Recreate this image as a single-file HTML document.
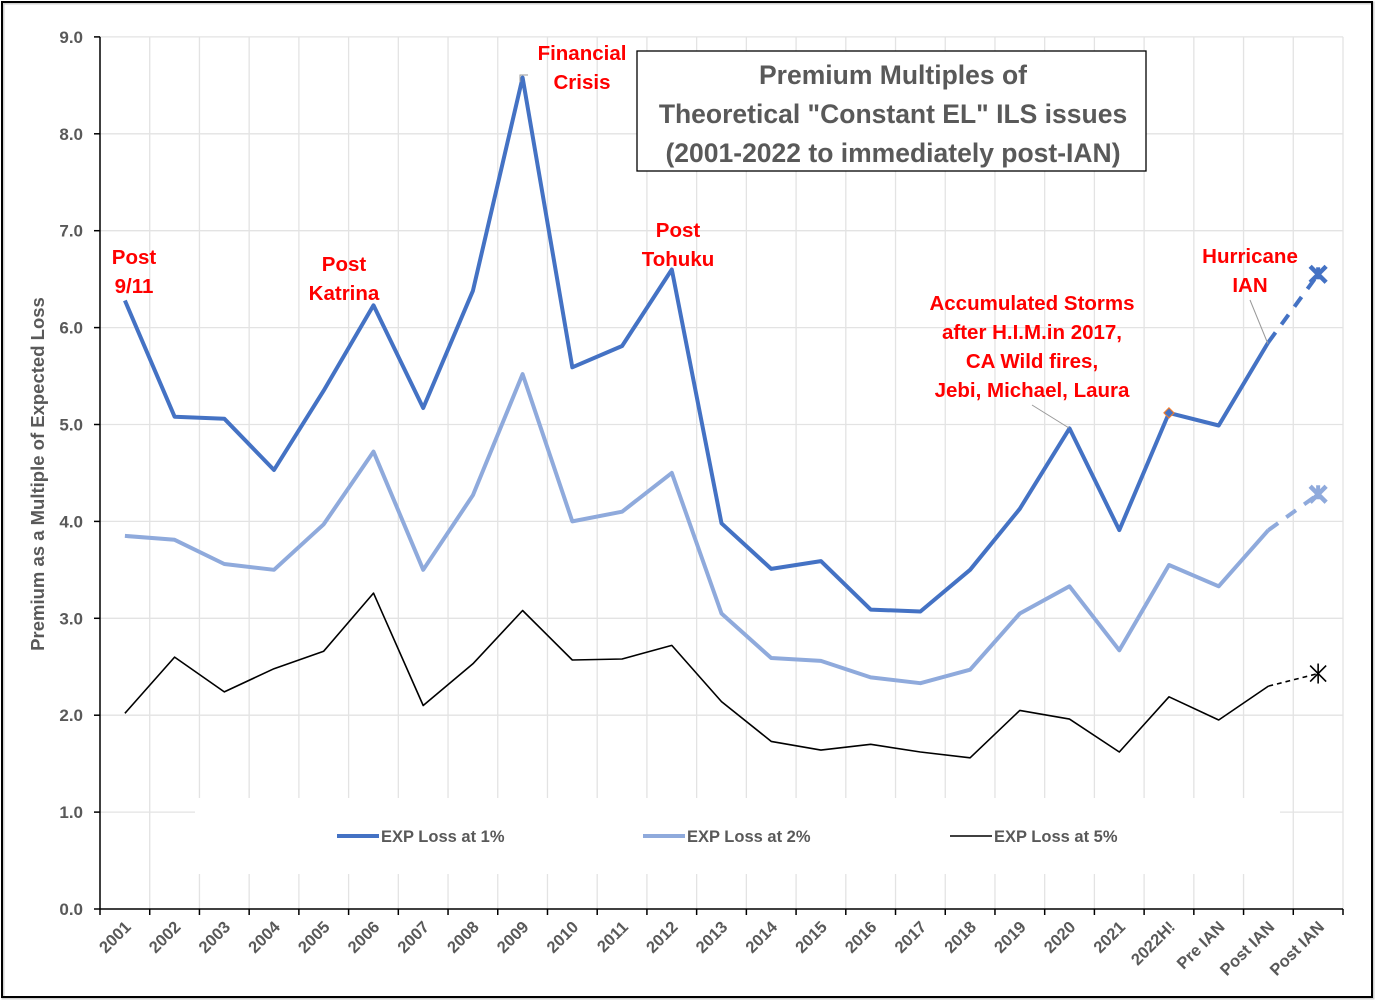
<!DOCTYPE html>
<html><head><meta charset="utf-8"><style>
html,body{margin:0;padding:0;background:#fff;}
svg{display:block;font-family:"Liberation Sans",sans-serif;}
</style></head><body>
<svg id="s" width="1380" height="1008" viewBox="0 0 1380 1008" xmlns="http://www.w3.org/2000/svg"></svg>
<script>
var s=document.getElementById('s');
var X0=100,X1=1343,Y0=909,U=96.9,N=25,W=(X1-X0)/N;
function cx(i){return X0+W*(i+0.5);}
function cy(v){return Y0-v*U;}
var h='';
h+='<rect x="0" y="0" width="1380" height="1008" fill="#fff"/>';
h+='<rect x="3" y="3" width="1370" height="995" fill="none" stroke="#d0d0d0" stroke-width="3"/>';
h+='<rect x="2" y="2" width="1370" height="995" fill="none" stroke="#000" stroke-width="2"/>';
for(var k=1;k<=9;k++){h+='<line x1="'+X0+'" x2="'+X1+'" y1="'+cy(k)+'" y2="'+cy(k)+'" stroke="#e3e3e3" stroke-width="1.3"/>';}
for(var i=1;i<=N;i++){var x=X0+W*i;h+='<line x1="'+x+'" x2="'+x+'" y1="'+cy(9)+'" y2="'+Y0+'" stroke="#e3e3e3" stroke-width="1.3"/>';}
h+='<rect x="195" y="798" width="1085" height="76" fill="#fff"/>';
h+='<line x1="'+X0+'" x2="'+X0+'" y1="'+cy(9)+'" y2="'+Y0+'" stroke="#000" stroke-width="1.5"/>';
h+='<line x1="'+X0+'" x2="'+X1+'" y1="'+Y0+'" y2="'+Y0+'" stroke="#000" stroke-width="1.5"/>';
for(var k=0;k<=9;k++){h+='<line x1="94" x2="100" y1="'+cy(k)+'" y2="'+cy(k)+'" stroke="#000" stroke-width="1.5"/>';
h+='<text x="83" y="'+(cy(k)+6)+'" text-anchor="end" font-size="17" font-weight="bold" fill="#595959">'+k.toFixed(1)+'</text>';}
var labs=[];for(var y=2001;y<=2021;y++)labs.push(''+y);labs=labs.concat(['2022H!','Pre IAN','Post IAN','Post IAN']);
for(var i=0;i<=N;i++){var x=X0+W*i;h+='<line x1="'+x+'" x2="'+x+'" y1="'+Y0+'" y2="'+(Y0+6)+'" stroke="#000" stroke-width="1.5"/>';}
for(var i=0;i<N;i++){var x=cx(i)+7,y=928;h+='<text transform="translate('+x+','+y+') rotate(-45)" text-anchor="end" font-size="16.5" font-weight="bold" fill="#595959">'+labs[i]+'</text>';}
h+='<text transform="translate(44,474) rotate(-90)" text-anchor="middle" font-size="18.5" font-weight="bold" fill="#595959">Premium as a Multiple of Expected Loss</text>';
var d1=[6.28,5.08,5.06,4.53,5.35,6.23,5.17,6.38,8.58,5.59,5.81,6.60,3.98,3.51,3.59,3.09,3.07,3.50,4.13,4.96,3.91,5.12,4.99,5.85,6.55];
var d2=[3.85,3.81,3.56,3.50,3.97,4.72,3.50,4.27,5.52,4.00,4.10,4.50,3.05,2.59,2.56,2.39,2.33,2.47,3.05,3.33,2.67,3.55,3.33,3.91,4.28];
var d3=[2.02,2.60,2.24,2.48,2.66,3.26,2.10,2.53,3.08,2.57,2.58,2.72,2.14,1.73,1.64,1.70,1.62,1.56,2.05,1.96,1.62,2.19,1.95,2.30,2.43];
function pl(d,c,w){var p='';for(var i=0;i<24;i++)p+=(i?' ':'')+cx(i).toFixed(1)+','+cy(d[i]).toFixed(1);
return '<polyline points="'+p+'" fill="none" stroke="'+c+'" stroke-width="'+w+'" stroke-linejoin="round"/>'+
'<line x1="'+cx(23)+'" y1="'+cy(d[23])+'" x2="'+cx(24)+'" y2="'+cy(d[24])+'" stroke="'+c+'" stroke-width="'+w+'" stroke-dasharray="'+(w*3)+','+(w*2.5)+'"/>';}
h+=pl(d3,'#000',1.6);
h+=pl(d2,'#8FAADC',4);
h+=pl(d1,'#4472C4',4);
function xm(x,y,c,w){return '<path d="M'+(x-8)+','+(y-8)+'L'+(x+8)+','+(y+8)+'M'+(x-8)+','+(y+8)+'L'+(x+8)+','+(y-8)+'" stroke="'+c+'" stroke-width="'+w+'"/>';}
h+=xm(cx(24),cy(6.55),'#4472C4',4.5)+'<line x1="'+cx(24)+'" x2="'+cx(24)+'" y1="'+(cy(6.55)-7)+'" y2="'+(cy(6.55)+5)+'" stroke="#4472C4" stroke-width="4"/>';
h+=xm(cx(24),cy(4.28),'#8FAADC',4.5)+'<line x1="'+cx(24)+'" x2="'+cx(24)+'" y1="'+(cy(4.28)-9)+'" y2="'+(cy(4.28)+5)+'" stroke="#8FAADC" stroke-width="4"/>';
h+=xm(cx(24),cy(2.43),'#000',1.6)+'<line x1="'+cx(24)+'" x2="'+cx(24)+'" y1="'+(cy(2.43)-10)+'" y2="'+(cy(2.43)+10)+'" stroke="#000" stroke-width="1.6"/>';
var dx=cx(21),dy=cy(5.12);
h+='<path d="M'+dx+','+(dy-5)+'L'+(dx+5)+','+dy+'L'+dx+','+(dy+5)+'L'+(dx-5)+','+dy+'Z" fill="#4472C4" stroke="#ED7D31" stroke-width="1.2"/>';
function lg(x,c,w,t){return '<line x1="'+x+'" x2="'+(x+42)+'" y1="836" y2="836" stroke="'+c+'" stroke-width="'+w+'"/><text x="'+(x+44)+'" y="842" font-size="16.5" font-weight="bold" fill="#595959">'+t+'</text>';}
h+=lg(337,'#4472C4',4,'EXP Loss at 1%');
h+=lg(643,'#8FAADC',4,'EXP Loss at 2%');
h+=lg(950,'#000',1.6,'EXP Loss at 5%');
h+='<rect x="637" y="51" width="509" height="120" fill="#fff" stroke="#000" stroke-width="1.3"/>';
var tt=['Premium Multiples of','Theoretical "Constant EL" ILS issues','(2001-2022 to immediately post-IAN)'];
for(var i=0;i<3;i++)h+='<text x="893" y="'+(84+i*39)+'" text-anchor="middle" font-size="26.5" font-weight="bold" fill="#595959">'+tt[i].replace(/"/g,'&quot;')+'</text>';
function an(x,y,lines){var r='';for(var i=0;i<lines.length;i++)r+='<text x="'+x+'" y="'+(y+i*29)+'" text-anchor="middle" font-size="20.5" font-weight="bold" fill="#FF0000">'+lines[i]+'</text>';return r;}
h+=an(134,264,['Post','9/11']);
h+=an(344,271,['Post','Katrina']);
h+=an(582,60,['Financial','Crisis']);
h+=an(678,237,['Post','Tohuku']);
h+=an(1032,310,['Accumulated Storms','after H.I.M.in 2017,','CA Wild fires,','Jebi, Michael, Laura']);
h+=an(1250,263,['Hurricane','IAN']);
h+='<path d="M520,82L520,75L528,75" fill="none" stroke="#999" stroke-width="1"/>';
h+='<line x1="1032" y1="405" x2="1069" y2="428" stroke="#999" stroke-width="1"/>';
h+='<line x1="1250" y1="300" x2="1268" y2="344" stroke="#999" stroke-width="1"/>';
s.innerHTML=h;
</script>
</body></html>
